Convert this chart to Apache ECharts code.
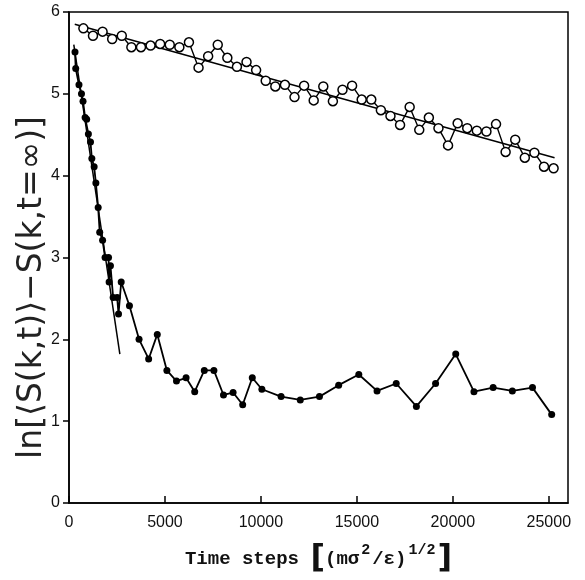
<!DOCTYPE html>
<html>
<head>
<meta charset="utf-8">
<script src="https://cdn.jsdelivr.net/npm/echarts@6/dist/echarts.min.js"></script>
<style>html,body{margin:0;padding:0;background:#fff;}#c{width:585px;height:580px;}</style>
</head>
<body>
<div id="c"></div>
<script>
// open circles series (slow decay)
var openX = [750,1250,1750,2250,2750,3250,3750,4250,4750,5250,5750,6250,6750,7250,7750,8250,8750,9250,9750,10250,10750,11250,11750,12250,12750,13250,13750,14250,14750,15250,15750,16250,16750,17250,17750,18250,18750,19250,19750,20250,20750,21250,21750,22250,22750,23250,23750,24250,24750,25250];
var openY = [5.80,5.71,5.76,5.67,5.71,5.57,5.57,5.59,5.61,5.60,5.57,5.63,5.32,5.46,5.60,5.44,5.33,5.39,5.29,5.16,5.09,5.11,4.96,5.10,4.92,5.09,4.91,5.05,5.10,4.93,4.93,4.80,4.73,4.62,4.84,4.56,4.71,4.58,4.37,4.64,4.58,4.55,4.54,4.63,4.29,4.44,4.22,4.28,4.11,4.09];
// filled circles series (fast decay)
var filledX = [313,350,520,650,730,840,920,1010,1120,1190,1310,1400,1520,1600,1750,1880,2060,2090,2160,2300,2510,2580,2720,3150,3650,4150,4600,5100,5600,6100,6550,7050,7550,8050,8550,9050,9550,10050,11050,12050,13050,14050,15100,16050,17050,18100,19100,20150,21100,22100,23100,24150,25150];
var filledY = [5.51,5.31,5.11,5.00,4.91,4.71,4.69,4.51,4.41,4.21,4.11,3.91,3.61,3.31,3.21,3.00,3.00,2.70,2.90,2.51,2.51,2.31,2.70,2.41,2.00,1.76,2.06,1.62,1.49,1.53,1.36,1.62,1.62,1.32,1.35,1.20,1.53,1.39,1.30,1.26,1.30,1.44,1.57,1.37,1.46,1.18,1.46,1.82,1.36,1.41,1.37,1.41,1.08];
// fitted straight lines
var fitOpenX = [300, 25300];
var fitOpenY = [5.85, 4.22];
var fitFilledX = [250, 2650];
var fitFilledY = [5.60, 1.82];
// ticks
var xTicks = [0,5000,10000,15000,20000,25000];
var yTicks = [0,1,2,3,4,5,6];

function pairs(xs, ys){ return xs.map(function(x,i){ return [x, ys[i]]; }); }

var chart = echarts.init(document.getElementById('c'), null, {renderer:'canvas'});
chart.setOption({
  animation:false,
  backgroundColor:'#fff',
  grid:{left:69, right:17, top:12, bottom:76, show:true, borderColor:'#000', borderWidth:1.5, backgroundColor:'transparent'},
  xAxis:{
    type:'value', min:0, max:26000, interval:5000,
    axisLine:{show:true, lineStyle:{color:'#000', width:1.5}},
    axisTick:{show:true, inside:true, length:7, lineStyle:{color:'#000', width:1.5}, customValues:xTicks},
    axisLabel:{color:'#111', fontSize:16, fontFamily:'Liberation Sans', margin:12, customValues:xTicks,
      formatter:function(v){ return String(v); }},
    splitLine:{show:false},
    name:'Time steps {br|[}(mσ{sup|2}/ε){sup|1/2}{br|]}',
    nameLocation:'middle', nameGap:40, nameMoveOverlap:false,
    nameTextStyle:{color:'#111', fontSize:19, fontFamily:'Liberation Mono', fontWeight:'bold',
      rich:{sup:{fontSize:15, fontFamily:'Liberation Mono', fontWeight:'bold', verticalAlign:'top', padding:[0,2,14,2], color:'#111'},
            br:{fontSize:32, fontFamily:'DejaVu Sans', color:'#111'}}}
  },
  yAxis:{
    type:'value', min:0, max:6, interval:1,
    axisLine:{show:true, lineStyle:{color:'#000', width:1.5}},
    axisTick:{show:true, inside:false, length:6, lineStyle:{color:'#000', width:1.5}, customValues:yTicks},
    axisLabel:{color:'#111', fontSize:16, fontFamily:'Liberation Sans', margin:9, customValues:yTicks},
    splitLine:{show:false},
    name:'ln[⟨S(k,t)⟩−S(k,t=∞)]',
    nameLocation:'middle', nameRotate:90, nameGap:20, nameMoveOverlap:false,
    nameTextStyle:{color:'#222', fontSize:33, fontFamily:'DejaVu Sans', padding:[0,60,0,0]}
  },
  series:[
    {type:'line', data:pairs(fitOpenX, fitOpenY), symbol:'none', lineStyle:{color:'#000', width:1.5}, z:2},
    {type:'line', data:pairs(fitFilledX, fitFilledY), symbol:'none', lineStyle:{color:'#000', width:1.5}, z:2},
    {type:'line', data:pairs(openX, openY), symbol:'circle', symbolSize:9,
      itemStyle:{color:'#fff', borderColor:'#000', borderWidth:1.5}, lineStyle:{color:'#000', width:1.4}, z:3},
    {type:'line', data:pairs(filledX, filledY), symbol:'circle', symbolSize:7,
      itemStyle:{color:'#000', borderColor:'#000', borderWidth:0}, lineStyle:{color:'#000', width:1.8}, z:3}
  ]
});
</script>
</body>
</html>
